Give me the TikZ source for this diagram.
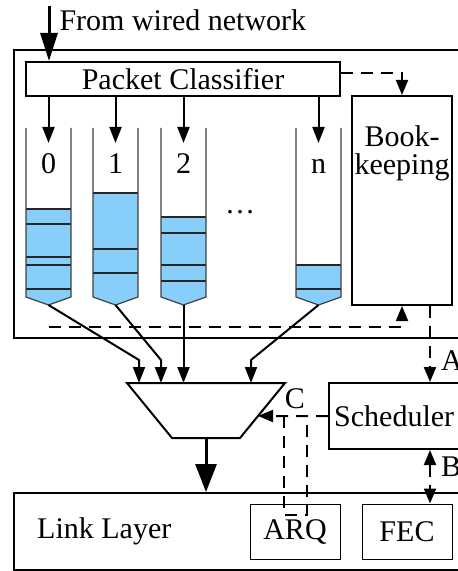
\documentclass[tikz,border=0pt]{standalone}
\usepackage{fontspec}
\setmainfont{Liberation Serif}
\usetikzlibrary{positioning,arrows.meta,calc}
\definecolor{queueblue}{RGB}{135,206,250}

\begin{document}
\begin{tikzpicture}[
  x=1bp, y=-1bp,
  font=\fontsize{30bp}{31bp}\selectfont,
  box/.style={draw, rectangle, line width=2bp, inner sep=0},
  thinbox/.style={draw, rectangle, line width=1bp, inner sep=0},
  qwall/.style={draw=black!75, line width=1.2bp},
  qsep/.style={draw=black!85, line width=1.2bp},
  qlabel/.style={inner sep=0, text height=30bp, anchor=north},
  arr/.style={-{Triangle[length=16bp,width=12bp]}, line width=2bp},
  inarr/.style={-{Triangle[length=28bp,width=17bp]}, line width=3bp},
  bigarr/.style={-{Triangle[length=28bp,width=21bp]}, line width=3bp},
  dline/.style={line width=2bp, dash pattern=on 12bp off 8bp},
  darr/.style={dline, -{Triangle[length=15bp,width=12bp]}},
  ]
  \useasboundingbox (0,0) rectangle (458,571);
  \clip (0,0) rectangle (458,571);

  % Upper block: classifier, queues, bookkeeping
  \node[box, minimum width=456bp, minimum height=288bp] (host) at (242,194) {};
  \node[box, minimum width=314bp, minimum height=34bp] (classifier) at (183,79) {Packet Classifier};
  \node[box, minimum width=100bp, minimum height=209bp] (book) at (402,200.5) {};
  \node[below=30bp of book.north, align=center, inner sep=0] (booktxt) {Book-\\[-3bp]keeping};

  \coordinate (wired) at (49,6);
  \node[anchor=west] (wiredtxt) at (56,20) {From wired network};
  \draw[inarr] (wired) -- (wired |- classifier.north);

  % Queues
  \foreach \qn/\cx/\filltop/\seps in {0/48.5/209/{224,257,265,289}, 1/115.5/193/{249,273},
                                      2/183.5/217/{233,265,281}, n/318.5/265/{289}}{
    \fill[queueblue] (\cx-22.5,\filltop) -- (\cx+22.5,\filltop) -- (\cx+22.5,297)
      -- (\cx,305) -- (\cx-22.5,297) -- cycle;
    \draw[qsep] (\cx-22.5,\filltop) -- (\cx+22.5,\filltop);
    \foreach \s in \seps
      \draw[qsep] (\cx-22.5,\s) -- (\cx+22.5,\s);
    \draw[qwall] (\cx-22.5,128) -- (\cx-22.5,297) -- (\cx,305) -- (\cx+22.5,297) -- (\cx+22.5,128);
    \coordinate (q\qn) at (\cx,305);
    \node[qlabel] (lab\qn) at (\cx,143) {\qn};
    \draw[arr] (classifier.south -| lab\qn) -- (lab\qn.north);
  }
  \node (dots) at (240,212) {\ldots};

  % Bookkeeping feedback
  \draw[darr] ([yshift=6bp]classifier.east) -| (book.north);
  \coordinate (fb) at (48.5,327);
  \draw[darr] (fb) -| (book.south);

  % Multiplexer
  \coordinate (muxtl) at (127,383);
  \coordinate (muxtr) at (285,383);
  \coordinate (muxbr) at (240,438);
  \coordinate (muxbl) at (172,438);
  \draw[line width=2bp, line join=miter] (muxtl) -- (muxtr) -- (muxbr) -- (muxbl) -- cycle;
  \coordinate (muxout) at ($(muxbl)!0.5!(muxbr)$);
  \foreach \qn/\mx in {0/139, 1/161, 2/183.5, n/251}{
    \coordinate (m\qn) at (\mx,360);
    \draw[arr] (q\qn) -- (m\qn) -- (m\qn |- muxtl);
  }

  % Scheduler
  \node[box, minimum width=202bp, minimum height=66bp] (sched) at (430,416) {};
  \node[right=6bp of sched.west, inner sep=0] (schedtxt) {Scheduler};
  \draw[darr] (book.south -| sched.north) -- (sched.north)
    node[pos=0.72, right=10bp, inner sep=0] (lblA) {A};

  % Link layer
  \node[box, minimum width=456bp, minimum height=77bp] (link) at (242,531.5) {};
  \node[right=21bp of link.west, inner sep=3bp] (linktxt) {Link Layer};
  \node[thinbox, minimum width=90bp, minimum height=55bp] (arq) at (295,531.5) {ARQ};
  \node[thinbox, minimum width=90bp, minimum height=55bp] (fec) at (407,531.5) {FEC};

  \draw[bigarr] (muxout) -- (muxout |- link.north);
  \draw[dline, {Triangle[length=15bp,width=12bp]}-{Triangle[length=15bp,width=12bp]}]
    (sched.south) -- (sched.south |- fec.north)
    node[pos=0.32, right=10bp, inner sep=0] (lblB) {B};

  % Control path from scheduler and ARQ into the multiplexer
  \coordinate (muxin) at ($(muxtr)!0.6!(muxbr)$);
  \draw[darr] (sched.west) -- (muxin);
  \node[inner sep=0] (lblC) at (295,399) {C};
  \coordinate (arqL) at (284,416);
  \coordinate (arqR) at (307,416);
  \draw[dline] (arqL) -- ++(0,99) -- ++(23,0) -- (arqR);
\end{tikzpicture}
\end{document}
